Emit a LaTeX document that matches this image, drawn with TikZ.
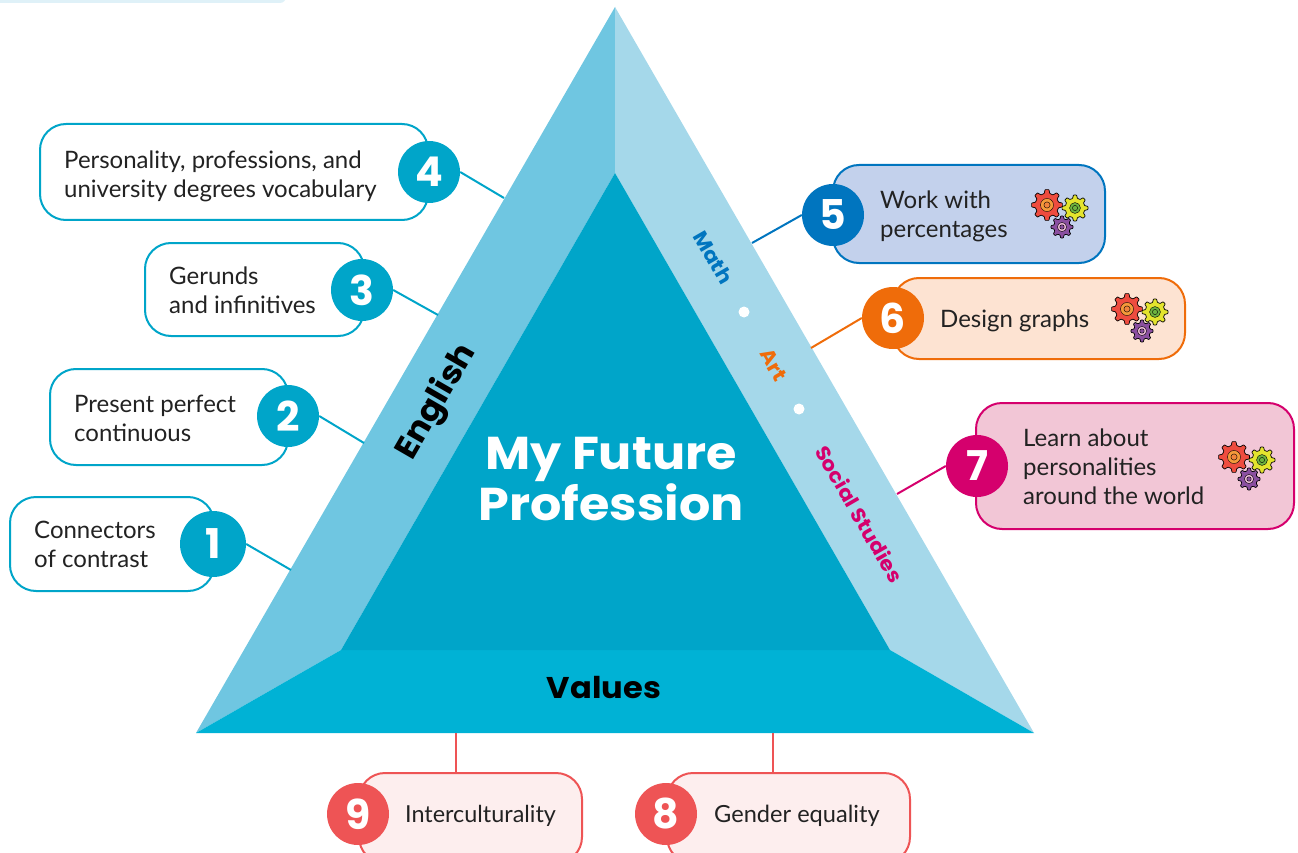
\documentclass[tikz,border=0pt]{standalone}
\usepackage{fontspec}
\setmainfont{Lato}
\newfontfamily\headfont{Poppins}[FakeStretch=1.07]
\newfontfamily\numfont{Poppins}
\usepackage{xcolor}
\usetikzlibrary{calc, positioning}

\definecolor{FaceLeft}{HTML}{6FC6E1}
\definecolor{FaceRight}{HTML}{A5D8EA}
\definecolor{FaceBottom}{HTML}{00B2D5}
\definecolor{FaceInner}{HTML}{00A5C9}
\definecolor{MathBlue}{HTML}{0075BF}
\definecolor{MathFill}{HTML}{C3D1EC}
\definecolor{ArtOrange}{HTML}{EF6C0A}
\definecolor{ArtFill}{HTML}{FDE3D2}
\definecolor{SocialPink}{HTML}{D5006D}
\definecolor{SocialFill}{HTML}{F2C6D6}
\definecolor{ValuesRed}{HTML}{EE5455}
\definecolor{ValuesFill}{HTML}{FDEEEE}
\definecolor{BodyText}{HTML}{222222}
\definecolor{GearRed}{HTML}{EE4C3F}
\definecolor{GearHub}{HTML}{F49A3A}
\definecolor{GearYellow}{HTML}{E4E42E}
\definecolor{GearGreen}{HTML}{6DB33F}
\definecolor{GearPurple}{HTML}{8A4FA0}
\definecolor{GearPink}{HTML}{E8B7D4}

\tikzset{
    skillbox/.style={draw=FaceInner, line width=2pt, fill=white, rounded corners=26pt, inner sep=0pt},
    skilltext/.style={anchor=west, align=left, inner sep=0pt, text=BodyText, font=\fontsize{24}{28.8}\selectfont},
    numdot/.style={circle, fill=FaceInner, minimum size=62pt, inner sep=0pt, text=white, font=\numfont\bfseries\fontsize{41}{41}\selectfont},
    linkline/.style={line width=2pt},
    sidelabel/.style={font=\headfont\bfseries\fontsize{20}{20}\selectfont, rotate=-60, inner sep=0pt},
    pics/gearwheel/.style n args={3}{code={
        \draw[fill=#1, line width=.7pt, rounded corners=.5pt] (-14:.76)
            \foreach \a in {0,45,...,315} { -- (\a-14:.76) -- (\a-7:1) -- (\a+7:1) -- (\a+14:.76) } -- cycle;
        \draw[fill=#2, line width=.4pt] (0,0) circle (.42);
        \draw[fill=#3, line width=.4pt] (0,0) circle (.2);
    }},
    pics/gearset/.style={code={
        \pic[scale=15.5] at (0,0) {gearwheel={GearRed}{GearHub}{GearHub!70!GearRed}};
        \pic[scale=13] at (28,3) {gearwheel={GearYellow}{GearGreen}{GearGreen}};
        \pic[scale=11] at (15,22) {gearwheel={GearPurple}{GearPink}{GearPurple}};
    }}
}

\begin{document}
\begin{tikzpicture}[x=1pt, y=-1pt]
    \useasboundingbox (0,0) rectangle (1298,853);
    \clip (0,0) rectangle (1298,853);

    \fill[FaceRight!35, rounded corners=6pt] (-10,-12) rectangle (286,3);

    % the pyramid
    \coordinate (apex) at (615,7);
    \coordinate (left) at (196,733);
    \coordinate (right) at (1034,733);
    \coordinate (top) at (615,173);
    \coordinate (innerl) at (341,650);
    \coordinate (innerr) at (890,650);

    \fill[FaceLeft] (apex) -- (left) -- (innerl) -- (top) -- cycle;
    \fill[FaceRight] (apex) -- (right) -- (innerr) -- (top) -- cycle;
    \fill[FaceBottom] (left) -- (right) -- (innerr) -- (innerl) -- cycle;
    \fill[FaceInner] (top) -- (innerl) -- (innerr) -- cycle;

    \node[text=white, align=center, font=\headfont\bfseries\fontsize{46}{51}\selectfont] (title) at (611,479) {My Future\\Profession};
    \node[rotate=60, font=\headfont\bfseries\fontsize{32}{32}\selectfont] (english) at (437,402) {English};
    \node[font=\headfont\bfseries\fontsize{30}{30}\selectfont] (values) at (604,688) {Values};

    \node[sidelabel, text=MathBlue] (math) at (713.5,257.5) {Math};
    \node[sidelabel, text=ArtOrange] (art) at (773.5,365) {Art};
    \node[sidelabel, text=SocialPink] (social) at (859.5,514) {Social Studies};
    \fill[white] (744,312) circle (5.5);
    \fill[white] (799,409) circle (5.5);

    % ends of the links on the pyramid
    \coordinate (e1) at (291,570);
    \coordinate (e2) at (364,443);
    \coordinate (e3) at (438,315);
    \coordinate (e4) at (504,198);
    \coordinate (e5) at (752,243);
    \coordinate (e6) at (811,348);
    \coordinate (e7) at (897,494);
    \coordinate (e8) at (773,733);
    \coordinate (e9) at (456,733);

    % English
    \node[skillbox, minimum width=388pt, minimum height=96pt] (b4) at (234,172) {};
    \node[skilltext] (t4) at (64,176.5) {Personality, professions, and\\university degrees vocabulary};
    \node[numdot] (n4) at (429,172) {4};
    \node[skillbox, minimum width=219pt, minimum height=93pt] (b3) at (254.5,289.5) {};
    \node[skilltext] (t3) at (169,290) {Gerunds\\and infinitives};
    \node[numdot] (n3) at (362,290) {3};
    \node[skillbox, minimum width=238pt, minimum height=96pt] (b2) at (169,417) {};
    \node[skilltext] (t2) at (74,418.5) {Present perfect\\continuous};
    \node[numdot] (n2) at (288,416) {2};
    \node[skillbox, minimum width=204pt, minimum height=94pt] (b1) at (112,544) {};
    \node[skilltext] (t1) at (34,544) {Connectors\\of contrast};
    \node[numdot, minimum size=66pt] (n1) at (213,544) {1};

    \draw[linkline, FaceInner] (n1.east) -- (e1);
    \draw[linkline, FaceInner] (n2.east) -- (e2);
    \draw[linkline, FaceInner] (n3.east) -- (e3);
    \draw[linkline, FaceInner] (n4.east) -- (e4);

    % Math, Art, Social Studies
    \node[skillbox, draw=MathBlue, fill=MathFill, minimum width=272pt, minimum height=98pt] (b5) at (969,214) {};
    \node[skilltext] (t5) at (880,216.5) {Work with\\percentages};
    \node[numdot, fill=MathBlue] (n5) at (833,215) {5};
    \pic at (1047,205) {gearset};

    \node[skillbox, draw=ArtOrange, fill=ArtFill, minimum width=292pt, minimum height=81pt] (b6) at (1039,318.5) {};
    \node[skilltext] (t6) at (940,321) {Design graphs};
    \node[numdot, fill=ArtOrange] (n6) at (893,318) {6};
    \pic at (1127,309) {gearset};

    \node[skillbox, draw=SocialPink, fill=SocialFill, minimum width=318pt, minimum height=126pt] (b7) at (1135,466) {};
    \node[skilltext] (t7) at (1023,467) {Learn about\\personalities\\around the world};
    \node[numdot, fill=SocialPink] (n7) at (977,466) {7};
    \pic at (1234,457) {gearset};

    \draw[linkline, MathBlue] (n5.west) -- (e5);
    \draw[linkline, ArtOrange] (n6.west) -- (e6);
    \draw[linkline, SocialPink] (n7.west) -- (e7);

    % Values
    \node[skillbox, draw=ValuesRed, fill=ValuesFill, minimum width=223pt, minimum height=90pt] (b9) at (470.5,818) {};
    \node[skilltext, font=\fontsize{23.4}{28.8}\selectfont] (t9) at (405,816) {Interculturality};
    \node[numdot, fill=ValuesRed] (n9) at (358,814) {9};
    \node[skillbox, draw=ValuesRed, fill=ValuesFill, minimum width=243pt, minimum height=90pt] (b8) at (788.5,818) {};
    \node[skilltext, font=\fontsize{23.6}{28.8}\selectfont] (t8) at (714,816) {Gender equality};
    \node[numdot, fill=ValuesRed] (n8) at (666,814) {8};

    \draw[linkline, ValuesRed] (e9) -- (e9 |- b9.north);
    \draw[linkline, ValuesRed] (e8) -- (e8 |- b8.north);
\end{tikzpicture}
\end{document}
